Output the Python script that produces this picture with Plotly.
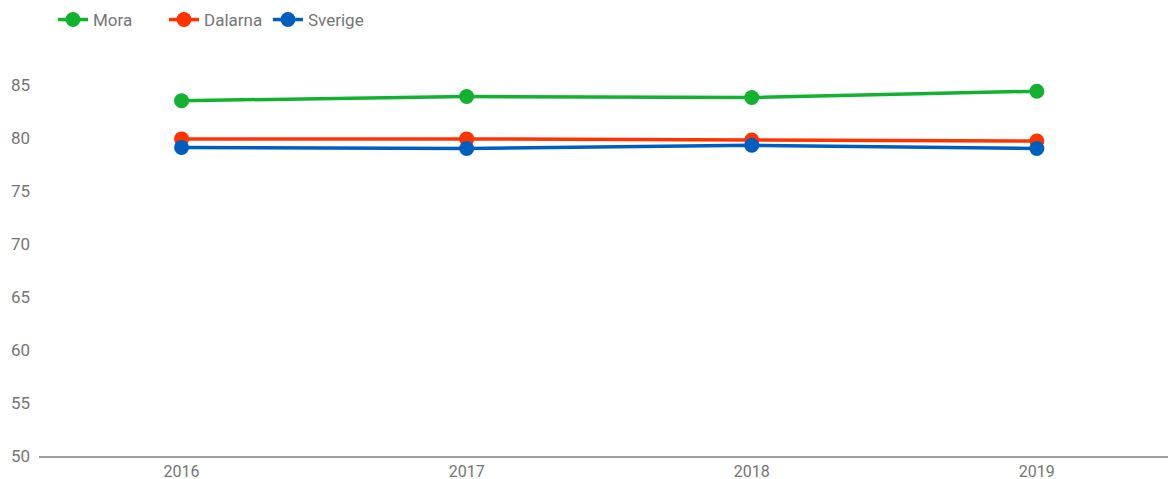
import plotly.graph_objects as go

years = ["2016", "2017", "2018", "2019"]
mora = [83.5, 83.9, 83.8, 84.4]
dalarna = [79.9, 79.9, 79.8, 79.7]
sverige = [79.1, 79.0, 79.3, 79.0]

series = [
    ("Mora", mora, "#13b130", "legend", 0.0124),
    ("Dalarna", dalarna, "#ff3300", "legend2", 0.1107),
    ("Sverige", sverige, "#005fbe", "legend3", 0.2028),
]

W, H = 1168, 479
L, R, T, B = 39, 0, 53, 23
plot_h = H - T - B

fig = go.Figure()
legend_cfg = {}
for name, vals, col, lg, lx in series:
    fig.add_trace(go.Scatter(
        x=years, y=vals, name=name, mode="lines+markers",
        line=dict(color=col, width=3.5),
        marker=dict(color=col, size=15),
        legend=lg,
    ))
    legend_cfg[lg] = dict(orientation="h", x=lx, xanchor="left",
                          y=1 + (T - 20) / plot_h, yanchor="middle",
                          font=dict(size=17, color="#757575"),
                          bgcolor="rgba(0,0,0,0)")

fig.update_layout(
    width=W, height=H,
    margin=dict(l=L, r=R, t=T, b=B, autoexpand=False),
    paper_bgcolor="white", plot_bgcolor="white",
    font=dict(family="Roboto", size=17, color="#757575"),
    showlegend=True,
    xaxis=dict(type="category", range=[-0.5, 3.46], showgrid=False,
               showline=True, linecolor="#9e9e9e", linewidth=2,
               ticks="", ticklabelstandoff=0, zeroline=False, automargin=False,
               tickfont=dict(size=16)),
    yaxis=dict(range=[50, 88], tickvals=[50, 55, 60, 65, 70, 75, 80, 85],
               showgrid=False, zeroline=False, showline=False, ticks="",
               ticklabelstandoff=8, automargin=False),
    **legend_cfg,
)

fig.write_html("out.html", config={"displayModeBar": False},
               post_script="document.body.style.margin='0';document.body.style.overflow='hidden';")
